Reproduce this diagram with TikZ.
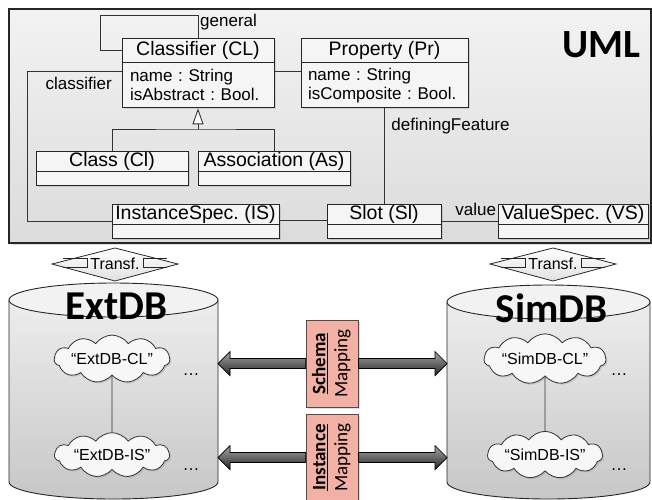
\documentclass[tikz,border=0pt]{standalone}
\usepackage{fontspec}
\setmainfont{Liberation Sans}
\newfontfamily\calibri{Carlito}
\usetikzlibrary{positioning,calc,arrows.meta,shapes.symbols,shadows}
\definecolor{mapfill}{RGB}{243,176,165}
\frenchspacing

\begin{document}
\begin{tikzpicture}[x=1pt,y=-1pt,
    shadowed/.style={drop shadow={opacity=0.25,shadow xshift=1.5pt,shadow yshift=-1.5pt}},
    umlhead/.style={draw=black!85,fill=black!4,line width=0.9pt,inner sep=0pt,font=\fontsize{19.5}{21}\selectfont,shadowed},
    umlbody/.style={draw=black!85,fill=black!4,line width=0.9pt,inner sep=0pt,align=left,font=\fontsize{17}{19}\selectfont,shadowed},
    conn/.style={draw=black!80,line width=0.9pt},
    lbl/.style={font=\fontsize{17}{19}\selectfont,inner sep=1pt},
    dbbody/.style={draw=black!85,line width=0.9pt,top color=black!7,bottom color=black!22},
    dbtitle/.style={font=\calibri\bfseries\fontsize{41}{45}\selectfont,inner sep=0pt},
    cloudy/.style={cloud,cloud puffs=11,cloud puff arc=110,aspect=3.6,draw=black!80,fill=black!3,line width=0.8pt,minimum width=115pt,minimum height=32pt,inner sep=0pt,font=\fontsize{16}{18}\selectfont,shadowed},
    mapbox/.style={draw=black!70,fill=mapfill,line width=0.8pt,minimum width=52pt,minimum height=87pt,inner sep=0pt,font=\calibri\fontsize{19}{22}\selectfont,shadowed},
    blockarrow/.style={draw=black,line width=0.7pt,top color=black!35,bottom color=black!85},
    transfbox/.style={draw=black!85,line width=0.8pt,top color=white,bottom color=black!12}
  ]
  \path[use as bounding box] (0,0) rectangle (652,499);
  \clip (0,0) rectangle (652,499);
  \fill[white] (0,0) rectangle (652,499);

  \draw[black!85,line width=1.2pt,top color=black!5,bottom color=black!14,shadowed] (9,9) rectangle (651,243);
  \node[font=\calibri\bfseries\fontsize{40}{44}\selectfont,inner sep=0pt] (umltitle) at (601,45) {UML};

  \node[umlhead,minimum width=152pt,minimum height=24pt] (cl) at (198,50) {Classifier (CL)};
  \node[umlbody,text width=136pt,inner xsep=8pt,minimum height=45pt,below=0pt of cl] (clb) {name : String\\isAbstract : Bool.};
  \node[umlhead,minimum width=167pt,minimum height=24pt] (pr) at (384.5,50) {Property (Pr)};
  \node[umlbody,text width=153pt,inner xsep=7pt,minimum height=45pt,below=0pt of pr] (prb) {name : String\\isComposite : Bool.};

  \foreach \n/\x/\y/\w/\t in {cls/112/161/152/Class (Cl), as/274/161/152/Association (As), is/195.5/214/167/InstanceSpec. (IS), sl/384/214/114/Slot (Sl), vs/573/214/150/ValueSpec. (VS)} {
    \node[umlhead,minimum width=\w pt,minimum height=20pt] (\n) at (\x,\y) {\t};
    \node[umlbody,minimum width=\w pt,minimum height=14pt,below=0pt of \n] (\n b) {};
  }

  \draw[conn] (cl.west) -| (100,15) -| (cl.north);
  \node[lbl,anchor=west] (genlbl) at (199,22) {general};
  \draw[conn] ([yshift=13.5pt]clb.west) -| (27,221) -- ([yshift=-7pt]is.west);
  \node[lbl,anchor=east] (clflbl) at (113,83) {classifier};
  \draw[conn] ([yshift=13.5pt]clb.east) -- ([yshift=13.5pt]prb.west);

  \coordinate (gen) at (198,129);
  \draw[conn] (cls.north) |- (gen) -| (as.north);
  \draw[conn,-{Triangle[length=16pt,width=11pt,fill=white]}] (gen) -- (clb.south);

  \draw[conn] (sl.north |- prb.south) -- (sl.north) node[pos=0.19,anchor=west,lbl,xshift=6pt] (dflbl) {definingFeature};
  \draw[conn] ([yshift=-6pt]is.east) -- ([yshift=-6pt]sl.west);
  \draw[conn] ([yshift=-7pt]sl.east) -- ([yshift=-7pt]vs.west) node[at end,anchor=south east,lbl,yshift=4pt] (vallbl) {value};

  \foreach \n/\x in {tl/115,tr/553} {
    \coordinate (\n) at (\x,264);
    \draw[transfbox] (\n) ++(-63,0) -- ++(63,-16) -- ++(63,16) -- ++(-63,17) -- cycle;
    \draw[black!85,line width=0.8pt] (\n) ++(-52,-6) -- ++(24,0) -- ++(0,9) -- ++(-24,0);
    \draw[black!85,line width=0.8pt] (\n) ++(52,-6) -- ++(-24,0) -- ++(0,9) -- ++(24,0);
    \node[font=\fontsize{16}{18}\selectfont,inner sep=0pt] (\n lbl) at (\n) {Transf.};
  }

  \foreach \db/\cx/\rx/\ty/\txt in {ext/113.5/104.5/300/ExtDB, sim/548.5/101.5/302/SimDB} {
    \draw[dbbody] ({\cx-\rx},\ty) -- ({\cx-\rx},482)
      arc[start angle=180,end angle=360,x radius={\rx*1pt},y radius=17pt]
      -- ({\cx+\rx},\ty) -- cycle;
    \draw[draw=black!85,line width=0.9pt,fill=black!5] (\cx,\ty) ellipse[x radius={\rx*1pt},y radius=17pt];
    \node[dbtitle] (\db) at ({\cx+3},{\ty+6}) {\txt};
  }
  \coordinate (extR) at (218,0);
  \coordinate (simL) at (447,0);

  \node[cloudy] (extcl) at (112,359) {“ExtDB-CL”};
  \node[cloudy] (extis) at (112,455) {“ExtDB-IS”};
  \node[cloudy] (simcl) at (545,359) {“SimDB-CL”};
  \node[cloudy] (simis) at (545,455) {“SimDB-IS”};
  \draw[conn] (extcl) -- (extis);
  \draw[conn] (simcl) -- (simis);
  \foreach \n/\x/\y in {extcld/191/375, extisd/191/470, simcld/619/375, simisd/619/470}
    \node[lbl,anchor=base] (\n) at (\x,\y) {…};

  \node[mapbox] (sm) at (332,363.5) {\rotatebox{90}{\begin{tabular}{@{}c@{}}\textbf{\underline{Schema}}\\Mapping\end{tabular}}};
  \node[mapbox] (im) at (332,457.5) {\rotatebox{90}{\begin{tabular}{@{}c@{}}\textbf{\underline{Instance}}\\Mapping\end{tabular}}};

  \foreach \m in {sm,im} {
    \filldraw[blockarrow] ($(\m.west)+(0,-5)$) -- ($(extR |- \m.west)+(12,-5)$) -- ++(0,-7) -- (extR |- \m.west) -- ++(12,12) -- ++(0,-7) -- ($(\m.west)+(0,5)$) -- cycle;
    \filldraw[blockarrow] ($(\m.east)+(0,-5)$) -- ($(simL |- \m.east)+(-12,-5)$) -- ++(0,-7) -- (simL |- \m.east) -- ++(-12,12) -- ++(0,-7) -- ($(\m.east)+(0,5)$) -- cycle;
  }
\end{tikzpicture}
\end{document}
